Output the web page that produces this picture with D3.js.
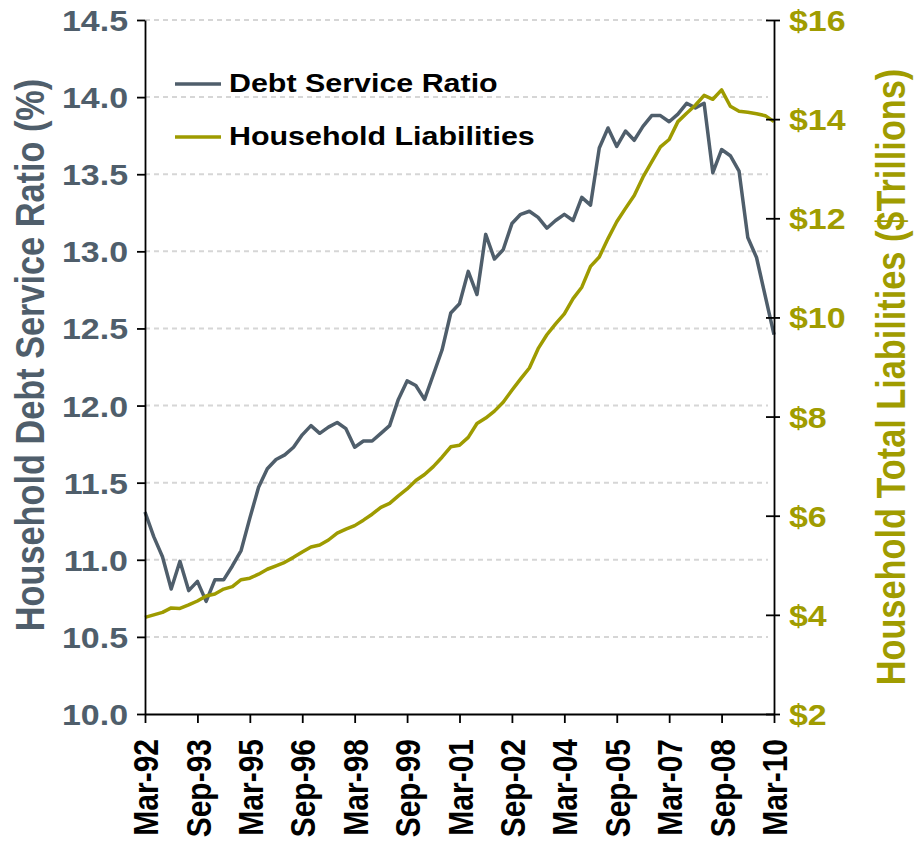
<!DOCTYPE html>
<html>
<head>
<meta charset="utf-8">
<script src="https://cdn.jsdelivr.net/npm/d3@7"></script>
<style>
  html, body { margin: 0; padding: 0; background: #fff; }
  svg { display: block; font-family: "Liberation Sans", Arial, Helvetica, sans-serif; }
</style>
</head>
<body>
<svg id="chart" width="915" height="841"></svg>
<script>
// ---------- DATA ----------
const categories = [
  "Mar-92","Jun-92","Sep-92","Dec-92","Mar-93","Jun-93","Sep-93","Dec-93",
  "Mar-94","Jun-94","Sep-94","Dec-94","Mar-95","Jun-95","Sep-95","Dec-95",
  "Mar-96","Jun-96","Sep-96","Dec-96","Mar-97","Jun-97","Sep-97","Dec-97",
  "Mar-98","Jun-98","Sep-98","Dec-98","Mar-99","Jun-99","Sep-99","Dec-99",
  "Mar-00","Jun-00","Sep-00","Dec-00","Mar-01","Jun-01","Sep-01","Dec-01",
  "Mar-02","Jun-02","Sep-02","Dec-02","Mar-03","Jun-03","Sep-03","Dec-03",
  "Mar-04","Jun-04","Sep-04","Dec-04","Mar-05","Jun-05","Sep-05","Dec-05",
  "Mar-06","Jun-06","Sep-06","Dec-06","Mar-07","Jun-07","Sep-07","Dec-07",
  "Mar-08","Jun-08","Sep-08","Dec-08","Mar-09","Jun-09","Sep-09","Dec-09",
  "Mar-10"
];

const debtServiceRatio = [
  11.31, 11.15, 11.02, 10.81, 10.99, 10.80, 10.86, 10.73,
  10.87, 10.87, 10.96, 11.06, 11.27, 11.47, 11.59, 11.65,
  11.68, 11.73, 11.81, 11.87, 11.82, 11.86, 11.89, 11.85,
  11.73, 11.77, 11.77, 11.82, 11.87, 12.04, 12.16, 12.13,
  12.04, 12.20, 12.36, 12.60, 12.66, 12.87, 12.72, 13.11,
  12.95, 13.01, 13.18, 13.24, 13.26, 13.22, 13.15, 13.20,
  13.24, 13.20, 13.35, 13.30, 13.67, 13.80, 13.68, 13.78,
  13.72, 13.81, 13.88, 13.88, 13.84, 13.89, 13.96, 13.93,
  13.96, 13.51, 13.66, 13.62, 13.52, 13.09, 12.96, 12.71,
  12.46
];

const householdLiabilities = [
  3.95, 4.00, 4.05, 4.14, 4.13, 4.20, 4.28, 4.38,
  4.42, 4.52, 4.57, 4.71, 4.74, 4.82, 4.92, 4.99,
  5.06, 5.16, 5.27, 5.37, 5.41, 5.51, 5.65, 5.73,
  5.80, 5.91, 6.03, 6.17, 6.25, 6.40, 6.54, 6.71,
  6.83, 6.99, 7.18, 7.39, 7.42, 7.58, 7.86, 7.97,
  8.11, 8.29, 8.53, 8.76, 8.98, 9.37, 9.65, 9.87,
  10.07, 10.38, 10.61, 11.03, 11.22, 11.59, 11.93, 12.20,
  12.46, 12.83, 13.14, 13.44, 13.59, 13.95, 14.12, 14.28,
  14.48, 14.40, 14.59, 14.26, 14.16, 14.14, 14.11, 14.07,
  13.95
];

const xTickLabels = ["Mar-92","Sep-93","Mar-95","Sep-96","Mar-98","Sep-99","Mar-01",
                     "Sep-02","Mar-04","Sep-05","Mar-07","Sep-08","Mar-10"];
const leftTicks = [10.0, 10.5, 11.0, 11.5, 12.0, 12.5, 13.0, 13.5, 14.0, 14.5];
const rightTicks = [2, 4, 6, 8, 10, 12, 14, 16];
const seriesNames = ["Debt Service Ratio", "Household Liabilities"];
const leftTitle = "Household Debt Service Ratio (%)";
const rightTitle = "Household Total Liabilities ($Trillions)";

// ---------- STYLE ----------
const SLATE = "#4f5e6b";
const OLIVE = "#9e9b00";
const OLIVE_TEXT = "#a09c00";
const R = 1.17; // horizontal stretch of the original typography

const svg = d3.select("#chart");
const X0 = 145, X1 = 774, Y0 = 714, Y1 = 20;

const x = d3.scalePoint().domain(categories).range([X0, X1]);
const yL = d3.scaleLinear().domain([10, 14.5]).range([Y0, Y1]);
const yR = d3.scaleLinear().domain([2, 16]).range([Y0, Y1]);

// gridlines
svg.append("g").selectAll("line")
  .data(leftTicks.filter(d => d > 10))
  .join("line")
  .attr("x1", X0).attr("x2", X1 - 6)
  .attr("y1", d => yL(d)).attr("y2", d => yL(d))
  .attr("stroke", "#d6d6d6").attr("stroke-width", 2)
  .attr("stroke-dasharray", "5,4");

// lines
const lineL = d3.line().x((d, i) => x(categories[i])).y(d => yL(d));
const lineR = d3.line().x((d, i) => x(categories[i])).y(d => yR(d));

svg.append("path").datum(debtServiceRatio)
  .attr("d", lineL).attr("fill", "none")
  .attr("stroke", SLATE).attr("stroke-width", 3.5).attr("stroke-linejoin", "round");
svg.append("path").datum(householdLiabilities)
  .attr("d", lineR).attr("fill", "none")
  .attr("stroke", OLIVE).attr("stroke-width", 3.5).attr("stroke-linejoin", "round");

// left axis
const gL = svg.append("g").attr("transform", `translate(${X0},0)`)
  .call(d3.axisLeft(yL).tickValues(leftTicks).tickSize(8).tickSizeOuter(0)
        .tickFormat(d3.format(".1f")));
gL.selectAll("path, line").attr("stroke", "#000").attr("stroke-width", 1.8);
gL.selectAll("text")
  .attr("transform", `scale(${R},1)`)
  .attr("x", -17 / R).attr("dy", "0.36em")
  .attr("font-size", 29).attr("font-weight", "bold")
  .attr("fill", SLATE).attr("font-family", null);

// right axis
const gR = svg.append("g").attr("transform", `translate(${X1},0)`)
  .call(d3.axisRight(yR).tickValues(rightTicks).tickSize(6).tickSizeOuter(0)
        .tickFormat(d => "$" + d));
gR.selectAll(".tick").append("line").attr("x1", -8).attr("x2", 0);
gR.selectAll("path, line").attr("stroke", "#000").attr("stroke-width", 1.8);
gR.selectAll("text")
  .attr("transform", `scale(${R},1)`)
  .attr("x", 15 / R).attr("dy", "0.36em")
  .attr("font-size", 29).attr("font-weight", "bold")
  .attr("fill", OLIVE_TEXT).attr("font-family", null);

// bottom axis
const gB = svg.append("g").attr("transform", `translate(0,${Y0})`)
  .call(d3.axisBottom(x).tickValues(xTickLabels).tickSize(9).tickSizeOuter(0));
gB.selectAll("path, line").attr("stroke", "#000").attr("stroke-width", 1.8);
gB.selectAll("text")
  .attr("transform", `translate(0,25) scale(${R},1) rotate(-90)`)
  .attr("x", 0).attr("y", 0).attr("dy", "0.36em")
  .attr("text-anchor", "end")
  .attr("font-size", 30).attr("font-weight", "bold")
  .attr("fill", "#000").attr("font-family", null);

// axis titles
svg.append("text")
  .attr("transform", `translate(44,355) scale(${R},1) rotate(-90)`)
  .attr("text-anchor", "middle")
  .attr("font-size", 34.3).attr("font-weight", "bold")
  .attr("fill", SLATE).text(leftTitle);
svg.append("text")
  .attr("transform", `translate(905,377) scale(${R},1) rotate(-90)`)
  .attr("text-anchor", "middle")
  .attr("font-size", 34.3).attr("font-weight", "bold")
  .attr("fill", OLIVE_TEXT).text(rightTitle);

// legend
const legendColors = [SLATE, OLIVE];
const legendY = [84, 137];
const lg = svg.append("g");
seriesNames.forEach((name, i) => {
  lg.append("line")
    .attr("x1", 175).attr("x2", 221)
    .attr("y1", legendY[i]).attr("y2", legendY[i])
    .attr("stroke", legendColors[i]).attr("stroke-width", 3.5);
  lg.append("text")
    .attr("transform", `translate(229,${legendY[i] + 8}) scale(${R},1)`)
    .attr("font-size", 26).attr("font-weight", "bold")
    .attr("fill", "#000").text(name);
});
</script>
</body>
</html>
